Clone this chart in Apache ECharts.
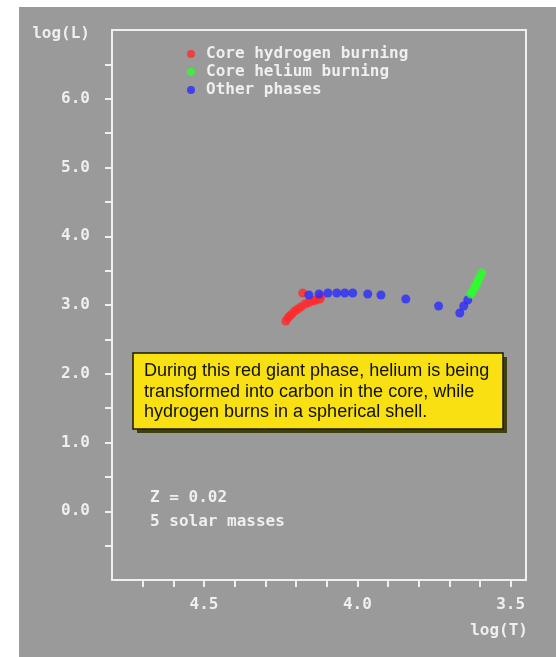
<!DOCTYPE html>
<html>
<head>
<meta charset="utf-8">
<title>HR diagram – 5 solar masses</title>
<script src="https://cdn.jsdelivr.net/npm/echarts@6/dist/echarts.min.js"></script>
<style>
  html, body { margin: 0; padding: 0; background: #ffffff; }
  #chart { width: 556px; height: 657px; }
</style>
</head>
<body>
<div id="chart"></div>
<script>
// Evolutionary track of a 5 solar-mass star (Z = 0.02) in the log(T)-log(L) plane.
// Core hydrogen burning: main sequence plus the hook at its end.
const hydrogenLogT = [4.233, 4.226, 4.220, 4.213, 4.204, 4.194, 4.184, 4.171, 4.158, 4.145, 4.135, 4.122, 4.119, 4.178];
const hydrogenLogL = [2.768, 2.812, 2.841, 2.870, 2.913, 2.942, 2.971, 3.014, 3.036, 3.058, 3.072, 3.087, 3.130, 3.174];

// Core helium burning on the red giant branch.
const heliumLogT = [3.630, 3.624, 3.617, 3.611, 3.608, 3.601, 3.594];
const heliumLogL = [3.160, 3.203, 3.261, 3.304, 3.348, 3.406, 3.464];

// Remaining phases: Hertzsprung gap crossing and ascent of the giant branch.
const otherLogT = [4.158, 4.125, 4.096, 4.067, 4.041, 4.015, 3.966, 3.923, 3.842, 3.735, 3.666, 3.653, 3.640];
const otherLogL = [3.145, 3.160, 3.174, 3.174, 3.174, 3.174, 3.160, 3.145, 3.087, 2.986, 2.884, 2.986, 3.072];

// Axis ticks and labels.
const xTickValues = [3.5, 3.6, 3.7, 3.8, 3.9, 4.0, 4.1, 4.2, 4.3, 4.4, 4.5, 4.6, 4.7];
const xLabelValues = [3.5, 4.0, 4.5];
const yTickValues = [-0.5, 0, 0.5, 1, 1.5, 2, 2.5, 3, 3.5, 4, 4.5, 5, 5.5, 6, 6.5];
const yLabelValues = [0, 1, 2, 3, 4, 5, 6];

const seriesNames = ['Core hydrogen burning', 'Core helium burning', 'Other phases'];
const noteLines = [
  'During this red giant phase, helium is being',
  'transformed into carbon in the core, while',
  'hydrogen burns in a spherical shell.'
];
const modelLines = ['Z = 0.02', '5 solar masses'];

const zip = (a, b) => a.map((v, i) => [v, b[i]]);

const FG = '#efefef';
const MONO_FONT = 'bold 16px "DejaVu Sans Mono"';
const MONO = {
  color: FG,
  fontFamily: 'DejaVu Sans Mono',
  fontWeight: 'bold',
  fontSize: 16
};

const chart = echarts.init(document.getElementById('chart'), null, { renderer: 'canvas' });

chart.setOption({
  backgroundColor: '#ffffff',
  animation: false,
  grid: {
    left: 112, right: 30, top: 30, bottom: 77,
    show: true,
    borderColor: FG,
    borderWidth: 2,
    backgroundColor: 'transparent'
  },
  legend: {
    orient: 'vertical',
    left: 182,
    top: 40,
    itemWidth: 8,
    itemHeight: 8,
    itemGap: 0,
    icon: 'circle',
    selectedMode: false,
    textStyle: Object.assign({}, MONO, { lineHeight: 18, padding: [0, 0, 0, 6] }),
    data: seriesNames
  },
  xAxis: {
    type: 'value',
    inverse: true,
    min: 3.45,
    max: 4.8,
    name: 'log(T)',
    nameLocation: 'start',
    nameGap: 2,
    nameTextStyle: Object.assign({}, MONO, { align: 'right', verticalAlign: 'top', padding: [43, 0, 0, 0] }),
    axisLine: { onZero: false, lineStyle: { color: FG, width: 2 } },
    axisTick: { customValues: xTickValues, length: 7, lineStyle: { color: FG, width: 2 } },
    axisLabel: Object.assign({}, MONO, {
      customValues: xLabelValues,
      margin: 17,
      formatter: v => v.toFixed(1)
    }),
    splitLine: { show: false }
  },
  yAxis: {
    type: 'value',
    min: -1,
    max: 7,
    name: 'log(L)',
    nameLocation: 'end',
    nameGap: -4,
    nameTextStyle: Object.assign({}, MONO, { align: 'right', verticalAlign: 'middle', padding: [0, 22, 0, 0] }),
    axisLine: { lineStyle: { color: FG, width: 2 } },
    axisTick: { customValues: yTickValues, length: 7, lineStyle: { color: FG, width: 2 } },
    axisLabel: Object.assign({}, MONO, {
      customValues: yLabelValues,
      margin: 22,
      formatter: v => v.toFixed(1)
    }),
    splitLine: { show: false }
  },
  series: [
    {
      name: seriesNames[0],
      type: 'scatter',
      symbolSize: 9,
      itemStyle: { color: '#ff2b2b' },
      data: zip(hydrogenLogT, hydrogenLogL),
      z: 2
    },
    {
      name: seriesNames[1],
      type: 'scatter',
      symbolSize: 9,
      itemStyle: { color: '#2bff2b' },
      data: zip(heliumLogT, heliumLogL),
      z: 4
    },
    {
      name: seriesNames[2],
      type: 'scatter',
      symbolSize: 9,
      itemStyle: { color: '#2b2bff' },
      data: zip(otherLogT, otherLogL),
      z: 3
    }
  ],
  graphic: [
    // grey panel behind the plot
    {
      type: 'rect',
      z: -100,
      silent: true,
      shape: { x: 19, y: 7, width: 537, height: 650 },
      style: { fill: '#9a9a9a' }
    },
    // explanatory note box with drop shadow
    {
      type: 'rect',
      z: 10,
      silent: true,
      shape: { x: 137, y: 357, width: 370, height: 76 },
      style: { fill: '#3f3f12' }
    },
    {
      type: 'rect',
      z: 11,
      silent: true,
      shape: { x: 133, y: 353, width: 370, height: 76 },
      style: { fill: '#f8e013', stroke: '#1a1a00', lineWidth: 1.5 }
    },
    {
      type: 'text',
      z: 12,
      silent: true,
      style: {
        x: 144,
        y: 361,
        text: noteLines.join('\n'),
        fill: '#111100',
        fontFamily: 'Liberation Sans',
        fontSize: 18,
        lineHeight: 20.5,
        verticalAlign: 'top'
      }
    },
    // model parameters
    {
      type: 'text',
      z: 12,
      silent: true,
      style: {
        x: 150,
        y: 498,
        text: modelLines[0],
        fill: FG,
        font: MONO_FONT,
        verticalAlign: 'middle'
      }
    },
    {
      type: 'text',
      z: 12,
      silent: true,
      style: {
        x: 150,
        y: 522,
        text: modelLines[1],
        fill: FG,
        font: MONO_FONT,
        verticalAlign: 'middle'
      }
    }
  ]
});
</script>
</body>
</html>
